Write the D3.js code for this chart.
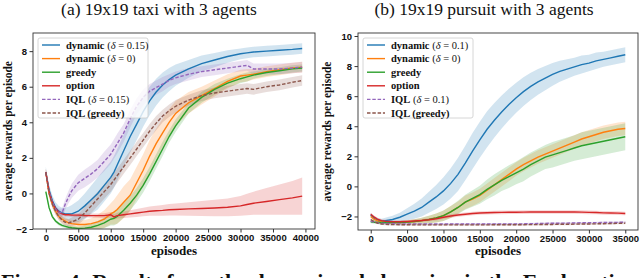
<!DOCTYPE html>
<html>
<head>
<meta charset="utf-8">
<script src="https://d3js.org/d3.v7.min.js"></script>
<style>
  body { margin: 0; background: #fff; }
  svg { display: block; font-family: 'Liberation Serif', 'DejaVu Serif', serif; }
  .tick text { font-weight: bold; font-size: 9.5px; fill: #111; }
  .tick line { stroke: #333; }
  .domain { display: none; }
</style>
</head>
<body>
<div id="chart"></div>
<script>
// ---- taxi (left panel) ----
const taxiEpisodes = [0, 500, 1000, 1500, 2000, 2500, 3000, 3500, 4000, 5000, 6000, 7000, 8000, 9000, 10000, 10500, 11000, 12000, 13000, 14000, 15000, 16000, 17000, 18000, 19000, 20000, 22000, 24000, 26000, 28000, 30000, 31000, 32000, 34000, 36000, 38000, 39500];
const taxiDynamic = [1.2, 0.2, -0.4, -0.8, -1.0, -1.1, -1.15, -1.15, -1.15, -1.0, -0.7, -0.35, 0.0, 0.45, 0.9, 1.2, 1.6, 2.4, 3.2, 3.9, 4.6, 5.2, 5.7, 6.1, 6.4, 6.65, 7.0, 7.3, 7.5, 7.7, 7.85, 7.9, 7.95, 8.0, 8.05, 8.1, 8.15];
const taxiDynamicStd = [0.3, 0.3, 0.3, 0.3, 0.3, 0.3, 0.35, 0.4, 0.5, 0.6, 0.7, 0.8, 0.9, 0.9, 0.9, 0.9, 0.9, 0.9, 0.9, 0.9, 0.85, 0.8, 0.75, 0.7, 0.65, 0.6, 0.5, 0.45, 0.4, 0.35, 0.3, 0.3, 0.3, 0.3, 0.3, 0.3, 0.3];
const taxiDynamic0 = [1.2, 0.0, -0.6, -1.0, -1.3, -1.45, -1.55, -1.65, -1.7, -1.75, -1.75, -1.7, -1.6, -1.45, -1.15, -1.05, -0.9, -0.5, -0.1, 0.6, 1.3, 2.1, 2.8, 3.4, 4.0, 4.5, 5.1, 5.5, 5.9, 6.3, 6.6, 6.65, 6.7, 6.85, 6.95, 7.05, 7.1];
const taxiDynamic0Std = [0.2, 0.2, 0.2, 0.2, 0.2, 0.2, 0.2, 0.2, 0.2, 0.2, 0.25, 0.3, 0.4, 0.5, 0.6, 0.7, 0.8, 0.9, 0.9, 0.9, 0.9, 0.9, 0.85, 0.8, 0.75, 0.7, 0.6, 0.5, 0.45, 0.4, 0.35, 0.35, 0.3, 0.3, 0.3, 0.3, 0.3];
const taxiGreedy = [0.1, -0.8, -1.3, -1.55, -1.7, -1.8, -1.85, -1.9, -1.93, -1.97, -1.95, -1.9, -1.8, -1.65, -1.45, -1.4, -1.3, -0.95, -0.55, -0.1, 0.45, 1.1, 1.8, 2.5, 3.2, 3.8, 4.8, 5.4, 5.85, 6.2, 6.45, 6.55, 6.65, 6.8, 6.9, 7.0, 7.05];
const taxiGreedyStd = [0.1, 0.1, 0.1, 0.1, 0.1, 0.1, 0.1, 0.1, 0.1, 0.1, 0.15, 0.2, 0.25, 0.3, 0.35, 0.4, 0.4, 0.4, 0.4, 0.4, 0.4, 0.4, 0.4, 0.4, 0.35, 0.35, 0.3, 0.3, 0.3, 0.25, 0.25, 0.25, 0.2, 0.2, 0.2, 0.2, 0.2];
const taxiOption = [1.2, 0.1, -0.5, -0.85, -1.05, -1.15, -1.2, -1.2, -1.22, -1.22, -1.24, -1.25, -1.25, -1.25, -1.2, -1.32, -1.25, -1.2, -1.15, -1.1, -1.05, -1.0, -0.97, -0.95, -0.92, -0.9, -0.87, -0.85, -0.82, -0.78, -0.7, -0.62, -0.55, -0.45, -0.35, -0.25, -0.15];
const taxiOptionStd = [0.15, 0.15, 0.12, 0.1, 0.1, 0.1, 0.1, 0.1, 0.1, 0.1, 0.1, 0.12, 0.12, 0.14, 0.15, 0.15, 0.16, 0.18, 0.2, 0.22, 0.24, 0.26, 0.28, 0.3, 0.32, 0.34, 0.38, 0.42, 0.46, 0.5, 0.55, 0.6, 0.65, 0.75, 0.85, 0.95, 1.05];
const taxiIql = [1.2, 0.1, -0.5, -0.9, -1.05, -1.1, -0.6, -0.2, 0.15, 0.6, 0.85, 1.1, 1.4, 1.8, 2.2, 2.5, 2.8, 3.4, 4.2, 4.9, 5.4, 5.75, 5.95, 6.15, 6.35, 6.5, 6.7, 6.85, 6.95, 7.05, 7.15, 7.2, 7.0, 7.0, 7.0, 7.05, 7.1];
const taxiIqlStd = [0.2, 0.2, 0.2, 0.2, 0.2, 0.25, 0.3, 0.35, 0.4, 0.45, 0.5, 0.5, 0.5, 0.55, 0.55, 0.55, 0.55, 0.5, 0.5, 0.45, 0.45, 0.4, 0.4, 0.4, 0.35, 0.35, 0.35, 0.3, 0.3, 0.3, 0.3, 0.3, 0.3, 0.3, 0.3, 0.3, 0.3];
const taxiIqlGreedy = [1.2, 0.0, -0.6, -1.0, -1.3, -1.5, -1.62, -1.65, -1.6, -1.45, -1.1, -0.7, -0.3, 0.1, 0.5, 0.75, 1.0, 1.5, 2.0, 2.5, 3.0, 3.5, 3.95, 4.35, 4.65, 4.9, 5.25, 5.5, 5.65, 5.75, 5.85, 5.9, 5.85, 6.0, 6.1, 6.25, 6.35];
const taxiIqlGreedyStd = [0.2, 0.2, 0.2, 0.2, 0.2, 0.2, 0.2, 0.2, 0.25, 0.3, 0.35, 0.4, 0.4, 0.4, 0.4, 0.4, 0.4, 0.4, 0.4, 0.4, 0.4, 0.4, 0.4, 0.35, 0.35, 0.35, 0.3, 0.3, 0.3, 0.3, 0.3, 0.3, 0.3, 0.3, 0.3, 0.3, 0.3];

// ---- pursuit (right panel) ----
const pursuitEpisodes = [0, 500, 1000, 1500, 2000, 3000, 4000, 5000, 6000, 7000, 8000, 9000, 10000, 11000, 12000, 13000, 14000, 15000, 16000, 17000, 18000, 19000, 20000, 21000, 22000, 23000, 24000, 25000, 26000, 27000, 28000, 29000, 30000, 31000, 32000, 33000, 34000, 35000];
const pursuitDynamic = [-1.9, -2.15, -2.25, -2.3, -2.28, -2.2, -2.05, -1.85, -1.65, -1.4, -1.05, -0.7, -0.3, 0.2, 0.8, 1.55, 2.35, 3.1, 3.8, 4.4, 4.95, 5.45, 5.9, 6.3, 6.65, 6.95, 7.2, 7.45, 7.65, 7.8, 7.95, 8.1, 8.2, 8.35, 8.45, 8.55, 8.65, 8.75];
const pursuitDynamicStd = [0.15, 0.15, 0.15, 0.15, 0.2, 0.25, 0.3, 0.4, 0.5, 0.6, 0.7, 0.8, 0.9, 1.0, 1.1, 1.15, 1.2, 1.2, 1.2, 1.15, 1.1, 1.05, 1.0, 0.95, 0.9, 0.85, 0.8, 0.75, 0.7, 0.65, 0.6, 0.6, 0.55, 0.55, 0.5, 0.5, 0.5, 0.5];
const pursuitDynamic0 = [-2.0, -2.2, -2.3, -2.35, -2.38, -2.4, -2.4, -2.37, -2.33, -2.28, -2.2, -2.1, -1.95, -1.7, -1.4, -1.05, -0.85, -0.6, -0.25, 0.1, 0.45, 0.8, 1.15, 1.45, 1.7, 1.95, 2.15, 2.35, 2.55, 2.75, 2.95, 3.15, 3.3, 3.45, 3.6, 3.7, 3.8, 3.85];
const pursuitDynamic0Std = [0.1, 0.1, 0.1, 0.1, 0.1, 0.1, 0.1, 0.1, 0.15, 0.2, 0.25, 0.3, 0.35, 0.4, 0.4, 0.45, 0.45, 0.45, 0.45, 0.45, 0.45, 0.45, 0.45, 0.45, 0.45, 0.45, 0.45, 0.45, 0.45, 0.45, 0.45, 0.45, 0.45, 0.45, 0.45, 0.45, 0.45, 0.45];
const pursuitGreedy = [-2.35, -2.38, -2.4, -2.4, -2.4, -2.4, -2.4, -2.37, -2.33, -2.28, -2.2, -2.1, -1.95, -1.7, -1.4, -1.05, -0.8, -0.55, -0.2, 0.1, 0.4, 0.65, 0.9, 1.15, 1.45, 1.7, 1.95, 2.1, 2.25, 2.4, 2.55, 2.7, 2.8, 2.9, 3.0, 3.1, 3.2, 3.3];
const pursuitGreedyStd = [0.1, 0.1, 0.1, 0.1, 0.1, 0.1, 0.1, 0.1, 0.15, 0.2, 0.25, 0.3, 0.35, 0.4, 0.45, 0.5, 0.55, 0.6, 0.65, 0.7, 0.7, 0.75, 0.75, 0.8, 0.8, 0.8, 0.8, 0.85, 0.85, 0.85, 0.85, 0.9, 0.9, 0.9, 0.9, 0.9, 0.9, 0.9];
const pursuitOption = [-1.85, -2.05, -2.2, -2.28, -2.32, -2.35, -2.35, -2.33, -2.3, -2.27, -2.22, -2.15, -2.05, -1.97, -1.9, -1.85, -1.8, -1.77, -1.75, -1.74, -1.73, -1.72, -1.72, -1.71, -1.7, -1.7, -1.7, -1.7, -1.7, -1.7, -1.7, -1.71, -1.73, -1.74, -1.76, -1.77, -1.78, -1.8];
const pursuitOptionStd = [0.1, 0.1, 0.1, 0.1, 0.1, 0.1, 0.1, 0.1, 0.1, 0.1, 0.1, 0.12, 0.12, 0.12, 0.12, 0.12, 0.12, 0.12, 0.12, 0.12, 0.12, 0.12, 0.12, 0.12, 0.12, 0.12, 0.12, 0.12, 0.12, 0.12, 0.12, 0.12, 0.12, 0.12, 0.12, 0.12, 0.12, 0.12];
const pursuitIql = [-2.3, -2.38, -2.42, -2.45, -2.47, -2.48, -2.5, -2.5, -2.5, -2.5, -2.5, -2.5, -2.5, -2.5, -2.5, -2.5, -2.5, -2.5, -2.5, -2.5, -2.5, -2.5, -2.5, -2.49, -2.48, -2.47, -2.46, -2.45, -2.45, -2.44, -2.43, -2.42, -2.42, -2.41, -2.4, -2.4, -2.39, -2.38];
const pursuitIqlGreedy = [-2.2, -2.35, -2.45, -2.5, -2.52, -2.54, -2.55, -2.55, -2.56, -2.56, -2.56, -2.56, -2.56, -2.56, -2.56, -2.56, -2.56, -2.56, -2.56, -2.55, -2.55, -2.55, -2.55, -2.55, -2.54, -2.54, -2.53, -2.53, -2.52, -2.52, -2.51, -2.5, -2.5, -2.49, -2.48, -2.47, -2.46, -2.45];
const pursuitIqlStd = pursuitEpisodes.map(() => 0.06);

const colors = ["#1f77b4", "#ff7f0e", "#2ca02c", "#d62728", "#9467bd", "#8c564b"];

const W = 640, H = 278;
const svg = d3.select("#chart").append("svg")
  .attr("width", W).attr("height", H);
svg.append("rect").attr("width", W).attr("height", H).attr("fill", "#fff");

const tickFmt = d => (d < 0 ? "\u2212" : "") + Math.abs(d);

function drawPanel(cfg) {
  const x = d3.scaleLinear().domain(cfg.xDomain).range([cfg.left, cfg.right]);
  const y = d3.scaleLinear().domain(cfg.yDomain).range([cfg.bottom, cfg.top]);
  const g = svg.append("g");

  const clipId = "clip" + cfg.id;
  svg.append("clipPath").attr("id", clipId)
    .append("rect").attr("x", cfg.left).attr("y", cfg.top)
    .attr("width", cfg.right - cfg.left).attr("height", cfg.bottom - cfg.top);
  const plot = g.append("g").attr("clip-path", `url(#${clipId})`);

  const area = d3.area()
    .x(d => x(d.e)).y0(d => y(d.v - d.s)).y1(d => y(d.v + d.s));
  const line = d3.line().x(d => x(d.e)).y(d => y(d.v));

  cfg.series.forEach((s, i) => {
    const pts = cfg.episodes.map((e, k) => ({ e: e, v: s.values[k], s: s.std[k] }));
    plot.append("path").attr("d", area(pts))
      .attr("fill", colors[i]).attr("fill-opacity", 0.2);
  });
  cfg.series.forEach((s, i) => {
    const pts = cfg.episodes.map((e, k) => ({ e: e, v: s.values[k] }));
    plot.append("path").attr("d", line(pts))
      .attr("fill", "none").attr("stroke", colors[i]).attr("stroke-width", 1.4)
      .attr("stroke-dasharray", s.dashed ? "3.5,1.8" : null);
  });

  // axes
  g.append("g").attr("transform", `translate(0,${cfg.bottom})`)
    .call(d3.axisBottom(x).tickValues(cfg.xTicks).tickFormat(tickFmt).tickSize(3.5).tickPadding(1.5));
  g.append("g").attr("transform", `translate(${cfg.left},0)`)
    .call(d3.axisLeft(y).tickValues(cfg.yTicks).tickFormat(tickFmt).tickSize(3.5).tickPadding(2.5));

  g.append("rect").attr("x", cfg.left).attr("y", cfg.top)
    .attr("width", cfg.right - cfg.left).attr("height", cfg.bottom - cfg.top)
    .attr("fill", "none").attr("stroke", "#333").attr("stroke-width", 0.9);

  // titles / labels
  g.append("text").attr("x", cfg.titleX).attr("y", 15)
    .attr("text-anchor", "middle").attr("font-size", 17.5).attr("fill", "#111")
    .text(cfg.title);
  g.append("text").attr("x", (cfg.left + cfg.right) / 2).attr("y", 255)
    .attr("text-anchor", "middle").attr("font-size", 13).attr("font-weight", "bold")
    .attr("fill", "#111").text("episodes");
  g.append("text")
    .attr("transform", `translate(${cfg.ylabelX},${(cfg.top + cfg.bottom) / 2}) rotate(-90)`)
    .attr("text-anchor", "middle").attr("font-size", 11.5).attr("font-weight", "bold")
    .attr("fill", "#111").text("average rewards per episode");

  // legend
  const lg = g.append("g");
  lg.append("rect").attr("x", cfg.left + 5).attr("y", cfg.top + 5)
    .attr("width", cfg.legendW).attr("height", 80).attr("rx", 2)
    .attr("fill", "#fff").attr("fill-opacity", 0.8).attr("stroke", "#ccc").attr("stroke-width", 0.8);
  cfg.series.forEach((s, i) => {
    const ly = cfg.top + 12 + i * 13.6;
    lg.append("line").attr("x1", cfg.left + 9).attr("x2", cfg.left + 27)
      .attr("y1", ly).attr("y2", ly)
      .attr("stroke", colors[i]).attr("stroke-width", 1.4)
      .attr("stroke-dasharray", s.dashed ? "3.5,1.8" : null);
    const t = lg.append("text").attr("x", cfg.left + 33).attr("y", ly + 3.5)
      .attr("font-size", 10.5).attr("fill", "#111");
    t.append("tspan").attr("font-weight", "bold").text(s.name);
    if (s.delta !== undefined) {
      t.append("tspan").text(" (");
      t.append("tspan").attr("font-style", "italic").text("δ");
      t.append("tspan").text(" = " + s.delta + ")");
    }
  });
}

drawPanel({
  id: "a", left: 33, right: 315, top: 33, bottom: 229,
  xDomain: [-1975, 41475], yDomain: [-2, 9.02],
  xTicks: d3.range(0, 40001, 5000), yTicks: [-2, 0, 2, 4, 6, 8],
  titleX: 159, ylabelX: 12, legendW: 110,
  title: "(a)  19x19 taxi with 3 agents",
  episodes: taxiEpisodes,
  series: [
    { name: "dynamic", delta: "0.15", values: taxiDynamic, std: taxiDynamicStd },
    { name: "dynamic", delta: "0", values: taxiDynamic0, std: taxiDynamic0Std },
    { name: "greedy", values: taxiGreedy, std: taxiGreedyStd },
    { name: "option", values: taxiOption, std: taxiOptionStd },
    { name: "IQL", delta: "0.15", values: taxiIql, std: taxiIqlStd, dashed: true },
    { name: "IQL (greedy)", values: taxiIqlGreedy, std: taxiIqlGreedyStd, dashed: true }
  ]
});

drawPanel({
  id: "b", left: 358, right: 638, top: 33, bottom: 230,
  xDomain: [-1750, 36750], yDomain: [-2.9, 10.2],
  xTicks: d3.range(0, 35001, 5000), yTicks: [-2, 0, 2, 4, 6, 8, 10],
  titleX: 484, ylabelX: 331, legendW: 110,
  title: "(b)  19x19 pursuit with 3 agents",
  episodes: pursuitEpisodes,
  series: [
    { name: "dynamic", delta: "0.1", values: pursuitDynamic, std: pursuitDynamicStd },
    { name: "dynamic", delta: "0", values: pursuitDynamic0, std: pursuitDynamic0Std },
    { name: "greedy", values: pursuitGreedy, std: pursuitGreedyStd },
    { name: "option", values: pursuitOption, std: pursuitOptionStd },
    { name: "IQL", delta: "0.1", values: pursuitIql, std: pursuitIqlStd, dashed: true },
    { name: "IQL (greedy)", values: pursuitIqlGreedy, std: pursuitIqlStd, dashed: true }
  ]
});

// caption, clipped by the bottom edge as in the reference
svg.append("text").attr("x", 1).attr("y", 289)
  .attr("font-size", 22).attr("font-weight", "bold").attr("fill", "#111")
  .text("Figure 4: Results from the dynamic role learning in the Explanation");
</script>
</body>
</html>
